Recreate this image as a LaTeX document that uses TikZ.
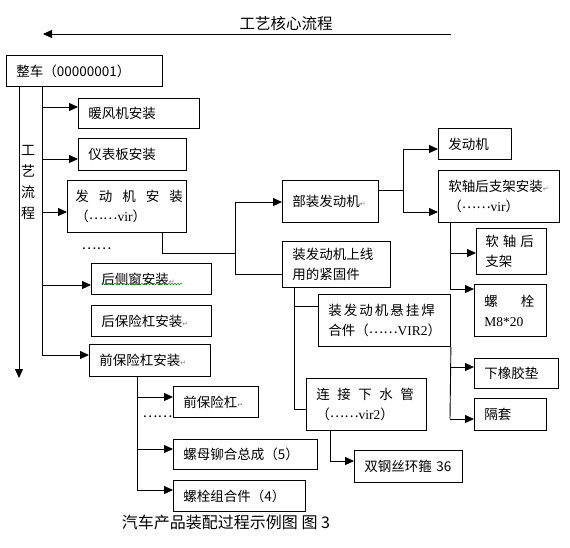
\documentclass[tikz,border=0pt]{standalone}
\usepackage{fontspec}
\setmainfont{Noto Sans CJK SC}
\newfontfamily\latf{Liberation Serif}
\newfontfamily\djv{DejaVu Sans}
\usetikzlibrary{arrows.meta,decorations.pathmorphing}
\newcommand\pmk{{\djv\fontsize{7pt}{7pt}\selectfont\textcolor{gray}{↵}}}
\newcommand\eld{\raisebox{2.5pt}{……}}
\newcommand\mybox[6]{%
  \pgfmathsetmacro\bxt{#4-#2-20}\pgfmathsetmacro\bxh{#5-#3}%
  \node[bx, text width=\bxt pt, minimum height=\bxh pt] (#1) at (#2,#3) {#6};}
\begin{document}
\begin{tikzpicture}[x=1pt,y=-1pt,line width=0.9pt,
  bx/.style={draw, anchor=north west, align=left, inner xsep=10pt, inner ysep=1pt,
    font=\fontsize{13.5pt}{20pt}\selectfont},
  arr/.style={-{Triangle[length=9pt,width=8pt]}},
  wavy/.style={draw=green!55!black, line width=0.5pt, decorate,
    decoration={snake, amplitude=0.8pt, segment length=3pt}},
  plain/.style={inner sep=0pt}]
\useasboundingbox[fill=white] (0,0) rectangle (570,547);

% title
\node[plain, font=\fontsize{15.5pt}{16pt}\selectfont] (title) at (286,24) {工艺核心流程};
\coordinate (ta) at (451,34);
\coordinate (tb) at (43,34);
\draw[arr] (ta) -- (tb);

% boxes
\mybox{whole}{6}{55}{162}{86}{整车（00000001）}
\mybox{nf}{78}{98}{199}{128}{暖风机安装}
\mybox{yb}{78}{138}{186}{170}{仪表板安装}
\mybox{fdj}{67}{180}{186}{232}{\mbox{\hspace{-2pt}发\hspace{10pt}动\hspace{10pt}机\hspace{10pt}安\hspace{10pt}装}\\\mbox{\hspace{-2pt}（\eld{\latf vir}）}}
\mybox{hcc}{91}{263}{211}{294}{后侧窗安装\pmk}
\mybox{hbx}{91}{305}{211}{336}{后保险杠安装\pmk}
\mybox{qbx}{89}{344}{210}{376}{前保险杠安装\pmk}
\mybox{qb}{173}{386}{258}{417}{前保险杠\pmk}
\mybox{lm}{173}{439}{317}{469}{螺母铆合总成（5）}
\mybox{lszh}{173}{480}{305}{511}{螺栓组合件（4）}
\mybox{bz}{282}{180}{378}{222}{部装发动机\pmk}
\mybox{jgj}{282}{241}{390}{287}{装发动机上线\\用的紧固件}
\mybox{fd}{438}{128}{511}{159}{发动机}
\mybox{rz}{438}{170}{559}{222}{\mbox{软轴后支架安装\pmk}\\（\eld{\latf vir}）}
\mybox{rzj}{476}{228}{546}{274}{\mbox{\hspace{-1pt}软\hspace{4pt}轴\hspace{4pt}后}\\\hspace{-1pt}支架}
\mybox{ls}{474}{284}{546}{336}{\mbox{螺\hspace{23pt}栓}\\{\latf M8*20}}
\mybox{xg}{318}{294}{450}{346}{\mbox{装\hspace{2pt}发\hspace{2pt}动\hspace{2pt}机\hspace{2pt}悬\hspace{2pt}挂\hspace{2pt}焊}\\\mbox{合件（\eld{\latf VIR2}）}}
\mybox{xxj}{474}{358}{558}{388}{下橡胶垫}
\mybox{gt}{474}{398}{546}{430}{隔套}
\mybox{lj}{306}{378}{426}{430}{\mbox{连\hspace{7.5pt}接\hspace{7.5pt}下\hspace{7.5pt}水\hspace{7.5pt}管}\\\mbox{（\eld{\latf vir2}）}}
\mybox{sg}{354}{450}{462}{482}{双钢丝环箍 36}

% spell-check underline
\draw[wavy] ([xshift=11pt,yshift=-5pt]hcc.west) -- ++(80,0);

% dots and vertical label
\node[plain, font=\fontsize{14pt}{14pt}\selectfont] (d1) at (96.5,249) {……};
\node[plain, font=\fontsize{14pt}{14pt}\selectfont] (d2) at (157.5,417) {……};
\node[plain, align=center, font=\fontsize{14pt}{21pt}\selectfont] (vt) at (28,182) {工\\艺\\流\\程};

% caption
\node[plain, font=\fontsize{16pt}{16pt}\selectfont] (cap) at (226,522) {汽车产品装配过程示例图 图 3};

% left process arrow and trunk
\coordinate (lv) at (19,378);
\draw[arr] (whole.south -| lv) -- (lv);
\coordinate (tr) at (42,355);
\draw (whole.south -| tr) -- (tr);
\draw[arr] (tr |- 0,107) -- (nf.west |- 0,107);
\draw[arr] (tr |- 0,159) -- (yb.west |- 0,159);
\draw[arr] (tr |- 0,212) -- (fdj.west |- 0,212);
\draw[arr] (tr |- 0,285) -- (hcc.west |- 0,285);
\draw[arr] (tr) -- (qbx.west |- tr);

% engine install to the right
\coordinate (j1) at (235,253);
\draw (fdj.south -| 162,0) |- (j1);
\draw (j1 |- 0,202) -- (j1 |- 0,274);
\draw[arr] (j1 |- 0,202) -- (bz.west |- 0,202);
\draw (j1 |- 0,274) -- (jgj.west |- 0,274);

% sub-assembly engine
\coordinate (j2) at (403,190);
\draw (bz.east |- j2) -- (j2);
\draw (j2 |- 0,149) -- (j2 |- 0,212);
\draw[arr] (j2 |- 0,149) -- (fd.west |- 0,149);
\draw[arr] (j2 |- 0,212) -- (rz.west |- 0,212);

% soft shaft bracket
\coordinate (j3) at (450,289);
\draw (rz.south -| j3) -- (j3);
\draw[arr] (j3 |- 0,253) -- (rzj.west |- 0,253);
\draw[arr] (j3) -- (ls.west |- j3);

% fasteners
\coordinate (j4) at (294,409);
\draw (jgj.south -| j4) -- (j4) -- (lj.west |- j4);
\draw (j4 |- 0,306) -- (xg.west |- 0,306);

% suspension weld
\coordinate (j5) at (450,419);
\draw (xg.south east) -- (j5);
\draw[arr] (j5 |- 0,367) -- (xxj.west |- 0,367);
\draw[arr] (j5) -- (gt.west |- j5);

% water pipe
\coordinate (j6) at (330,461);
\draw (lj.south -| j6) -- (j6);
\draw[arr] (j6) -- (sg.west |- j6);

% front bumper
\coordinate (j7) at (137,490);
\draw (qbx.south -| j7) -- (j7);
\draw[arr] (j7 |- 0,397) -- (qb.west |- 0,397);
\draw[arr] (j7 |- 0,449) -- (lm.west |- 0,449);
\draw[arr] (j7) -- (lszh.west |- j7);
\end{tikzpicture}
\end{document}
